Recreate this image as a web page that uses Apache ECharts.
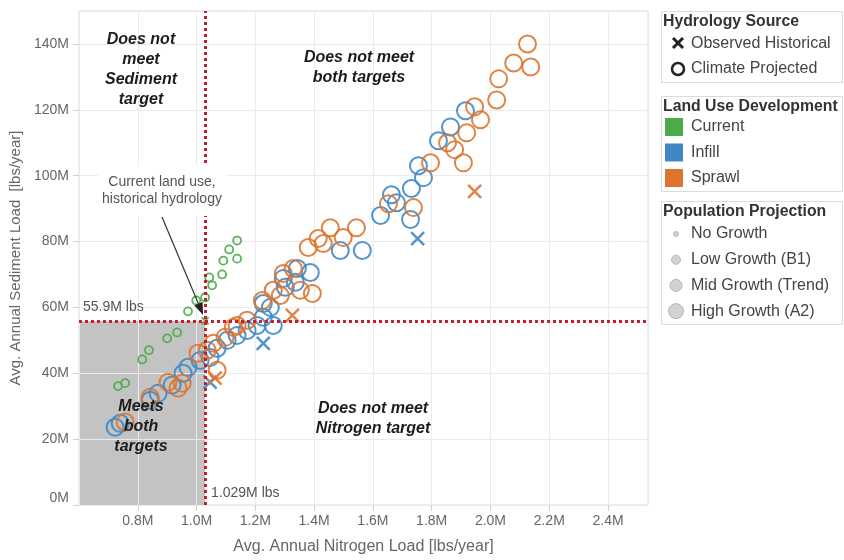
<!DOCTYPE html>
<html><head><meta charset="utf-8">
<script src="https://cdn.jsdelivr.net/npm/echarts@6/dist/echarts.min.js"></script>
<style>html,body{margin:0;padding:0;background:#fff}#c{width:844px;height:560px}</style>
</head><body><div id="c"></div>
<script>
// ---- data (loads in millions of lbs/year) ----
const nitrogenTarget = 1.029;
const sedimentTarget = 55.9;
const xRange = [0.6, 2.536];
const yRange = [0, 150];

const currentClimate = [[0.733,36.1],[0.757,37.0],[0.815,44.2],[0.838,47.0],[0.900,50.6],[0.934,52.4],[0.971,58.8],[0.999,62.1],[1.029,63.0],[1.043,69.1],[1.053,66.7],[1.087,70.0],[1.091,74.2],[1.111,77.6],[1.138,80.3],[1.138,74.8]];
const currentHistorical = [[1.029,55.9]];
const infillClimate = [[0.723,23.6],[0.740,24.8],[0.842,31.8],[0.869,33.9],[0.917,36.4],[0.954,40.0],[0.971,41.8],[1.012,43.9],[1.046,44.8],[1.070,47.6],[1.104,50.0],[1.138,51.5],[1.172,53.0],[1.206,54.5],[1.227,57.0],[1.251,60.0],[1.227,61.2],[1.261,54.5],[1.302,66.1],[1.336,67.6],[1.343,71.8],[1.295,68.8],[1.387,70.6],[1.489,77.3],[1.564,77.3],[1.626,87.9],[1.663,94.2],[1.680,91.8],[1.728,86.7],[1.731,96.1],[1.755,103.0],[1.772,99.4],[1.823,110.6],[1.864,114.8],[1.915,119.7]];
const infillHistorical = [[1.046,37.3],[1.227,49.1],[1.752,80.9]];
const sprawlClimate = [[0.757,25.2],[0.842,32.7],[0.903,37.3],[0.937,35.5],[0.951,37.0],[1.005,46.1],[1.036,47.0],[1.057,49.1],[1.070,40.9],[1.097,50.9],[1.125,53.9],[1.138,54.5],[1.172,56.1],[1.224,62.1],[1.261,65.2],[1.285,63.6],[1.295,70.3],[1.329,71.8],[1.353,65.2],[1.394,64.2],[1.380,78.2],[1.414,80.9],[1.431,79.4],[1.455,84.2],[1.499,81.2],[1.544,84.2],[1.653,91.5],[1.738,90.3],[1.796,103.9],[1.854,110.0],[1.878,107.9],[1.908,103.9],[1.919,113.0],[1.946,120.9],[1.966,117.0],[2.021,123.0],[2.028,129.4],[2.079,134.2],[2.126,140.0],[2.137,133.0]];
const sprawlHistorical = [[1.063,38.5],[1.326,57.6],[1.946,95.2]];

const hydrologyLegend = ['Observed Historical','Climate Projected'];
const landUseLegend = ['Current','Infill','Sprawl'];
const populationLegend = ['No Growth','Low Growth (B1)','Mid Growth (Trend)','High Growth (A2)'];

// ---- styles ----
const GREEN = '#4aab48', BLUE = '#3f88c5', ORANGE = '#dd7530';
const FONT = "'Liberation Sans', Arial, sans-serif";
const XPATH = 'path://M0,0L10,10M10,0L0,10';

const chart = echarts.init(document.getElementById('c'), null, {renderer:'canvas'});

function circleSeries(name, data, color, size, bw) {
  return {type:'scatter', name, data, z:3, symbol:'circle', symbolSize:size,
    itemStyle:{color:'rgba(0,0,0,0)', borderColor:color, borderWidth:bw, opacity:0.9}, silent:true};
}
function crossSeries(name, data, color, size, bw) {
  return {type:'scatter', name, data, z:3, symbol:XPATH, symbolSize:size,
    itemStyle:{color:'rgba(0,0,0,0)', borderColor:color, borderWidth:bw, opacity:0.9}, silent:true};
}

const option = {
  animation:false,
  textStyle:{fontFamily:FONT},
  grid:{left:79, right:196, top:11, bottom:54, show:true, borderColor:'#dadada', borderWidth:1, backgroundColor:'rgba(0,0,0,0)'},
  xAxis:{type:'value', min:xRange[0], max:xRange[1], interval:0.2, z:2,
    axisLine:{show:false},
    axisTick:{show:true, length:6, lineStyle:{color:'#cfcfcf'}},
    splitLine:{show:true, lineStyle:{color:'#ebebeb', width:1}},
    axisLabel:{color:'#666', fontSize:14, fontFamily:FONT, margin:9, showMinLabel:false, showMaxLabel:false,
      formatter:v => (Math.round(v*10)/10).toFixed(1)+'M'},
    name:'Avg. Annual Nitrogen Load [lbs/year]', nameLocation:'middle', nameGap:34,
    nameTextStyle:{color:'#666', fontSize:16, fontFamily:FONT}
  },
  yAxis:{type:'value', min:yRange[0], max:yRange[1], interval:20, z:2,
    axisLine:{show:false},
    axisTick:{show:true, length:6, lineStyle:{color:'#cfcfcf'}},
    splitLine:{show:true, lineStyle:{color:'#ebebeb', width:1}},
    axisLabel:{color:'#666', fontSize:14, fontFamily:FONT, margin:10, showMaxLabel:false,
      verticalAlignMinLabel:'bottom', formatter:v => Math.round(v)+'M'},
    name:'Avg. Annual Sediment Load  [lbs/year]', nameLocation:'middle', nameGap:53,
    nameTextStyle:{color:'#666', fontSize:15, fontFamily:FONT}
  },
  series:[
    {type:'scatter', name:'targets', data:[], z:1, silent:true,
      markArea:{silent:true, z:1, itemStyle:{color:'#c3c3c3'},
        data:[[{xAxis:xRange[0], yAxis:0},{xAxis:nitrogenTarget, yAxis:sedimentTarget}]]},
      markLine:{silent:true, z:5, symbol:'none', label:{show:false},
        lineStyle:{color:'#c41f2b', width:3, type:[3,3], cap:'butt'},
        data:[{xAxis:nitrogenTarget},{yAxis:sedimentTarget}]}
    },
    circleSeries('Current / Climate', currentClimate, GREEN, 8, 1.8),
    crossSeries('Current / Historical', currentHistorical, GREEN, 7, 1.8),
    circleSeries('Infill / Climate', infillClimate, BLUE, 17, 2),
    crossSeries('Infill / Historical', infillHistorical, BLUE, 13, 2.5),
    circleSeries('Sprawl / Climate', sprawlClimate, ORANGE, 17, 2),
    crossSeries('Sprawl / Historical', sprawlHistorical, ORANGE, 13, 2.5)
  ]
};
chart.setOption(option);

// ---- annotations & legend ----
const g = [];
const P = v => chart.convertToPixel({gridIndex:0}, v);
const cross = P([nitrogenTarget, sedimentTarget]);
const orig = P([xRange[0], yRange[0]]);

const qFont = "italic bold 16px " + FONT;
function qText(t, x, y) {
  g.push({type:'text', z:50, style:{text:t, x, y, align:'center', verticalAlign:'middle', font:qFont, fill:'#1c1c1c', lineHeight:20}});
}
qText('Does not\nmeet\nSediment\ntarget', 141, 70);
qText('Does not meet\nboth targets', 359, 68);
qText('Does not meet\nNitrogen target', 373, 419);
qText('Meets\nboth\ntargets', 141, 427);

// threshold labels
g.push({type:'text', z:50, style:{text: sedimentTarget + 'M lbs', x:orig[0]+4, y:cross[1]-14, align:'left', verticalAlign:'middle', font:'14px '+FONT, fill:'#555'}});
g.push({type:'text', z:50, style:{text: nitrogenTarget.toFixed(3) + 'M lbs', x:cross[0]+6, y:orig[1]-12, align:'left', verticalAlign:'middle', font:'14px '+FONT, fill:'#555'}});

// callout
g.push({type:'text', z:60, style:{text:'Current land use,\nhistorical hydrology', x:162, y:191, align:'center', verticalAlign:'middle',
  font:'14px '+FONT, fill:'#555', lineHeight:17, backgroundColor:'#fff', padding:[8,4]}});
const tip = [cross[0]-2, cross[1]-6];
const start = [162, 217];
const ang = Math.atan2(tip[1]-start[1], tip[0]-start[0]);
const base = [tip[0]-12*Math.cos(ang), tip[1]-12*Math.sin(ang)];
const nx = -Math.sin(ang)*4.5, ny = Math.cos(ang)*4.5;
g.push({type:'line', z:60, shape:{x1:start[0], y1:start[1], x2:base[0], y2:base[1]}, style:{stroke:'#333', lineWidth:1.2}});
g.push({type:'polygon', z:60, shape:{points:[tip,[base[0]+nx, base[1]+ny],[base[0]-nx, base[1]-ny]]}, style:{fill:'#222'}});

// legend boxes
const LX = 661.5, LW = 181;
const lf = '16px ' + FONT, lbf = 'bold 15.8px ' + FONT;
function box(y, h, title) {
  g.push({type:'rect', z:1, shape:{x:LX, y, width:LW, height:h}, style:{fill:'#fff', stroke:'#dcdcdc', lineWidth:1}});
  g.push({type:'text', z:2, style:{text:title, x:663, y:y+10, verticalAlign:'middle', font:lbf, fill:'#333'}});
}
function item(t, y) {
  g.push({type:'text', z:2, style:{text:t, x:691, y, verticalAlign:'middle', font:lf, fill:'#444'}});
}
box(11.5, 71, 'Hydrology Source');
g.push({type:'polyline', z:2, shape:{points:[[673,38],[683,48]]}, style:{stroke:'#222', lineWidth:3}});
g.push({type:'polyline', z:2, shape:{points:[[683,38],[673,48]]}, style:{stroke:'#222', lineWidth:3}});
item(hydrologyLegend[0], 44);
g.push({type:'circle', z:2, shape:{cx:678, cy:69, r:6}, style:{fill:'none', stroke:'#222', lineWidth:2.5}});
item(hydrologyLegend[1], 69);

box(96.5, 95, 'Land Use Development');
[GREEN, BLUE, ORANGE].forEach((c, i) => {
  const cy = 127 + i*25.5;
  g.push({type:'rect', z:2, shape:{x:665, y:cy-9, width:18, height:18}, style:{fill:c}});
  item(landUseLegend[i], cy);
});

box(201.5, 123, 'Population Projection');
[2.5, 4.5, 6, 7.5].forEach((r, i) => {
  const cy = 234 + i*25.7;
  g.push({type:'circle', z:2, shape:{cx:676, cy, r}, style:{fill:'#d2d2d2', stroke:'#b8b8b8', lineWidth:1}});
  item(populationLegend[i], cy);
});

chart.setOption({graphic:g});
</script>
</body></html>
